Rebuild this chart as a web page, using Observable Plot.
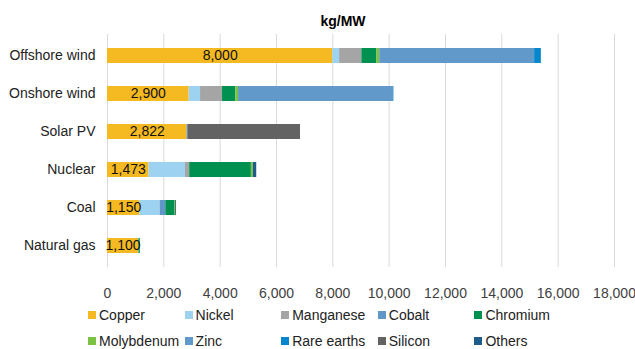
<!DOCTYPE html>
<html>
<head>
<meta charset="utf-8">
<script src="https://cdn.jsdelivr.net/npm/d3@7"></script>
<script src="https://cdn.jsdelivr.net/npm/@observablehq/plot@0.6"></script>
<style>
  html, body { margin: 0; padding: 0; background: #fff; }
  body { font-family: "Liberation Sans", Arial, sans-serif; }
  #wrap { position: relative; width: 635px; height: 349px; overflow: hidden; }
  #title { position: absolute; left: 0; width: 686px; top: 13px; text-align: center; font-weight: bold; font-size: 14px; color: #000; }
  #chart { position: absolute; left: 0; top: 0; }
  #legend { position: absolute; left: 88px; top: 307px; display: grid; grid-template-columns: repeat(5, 96.6px); row-gap: 10px; font-size: 14px; color: #222; }
  .item { display: flex; align-items: center; height: 16px; white-space: nowrap; }
  .sw { width: 8px; height: 8px; margin-right: 3px; flex: none; }
</style>
</head>
<body>
<div id="wrap">
  <div id="title">kg/MW</div>
  <div id="chart"></div>
  <div id="legend"></div>
</div>
<script>
const categories = ["Offshore wind", "Onshore wind", "Solar PV", "Nuclear", "Coal", "Natural gas"];
const minerals = ["Copper", "Nickel", "Manganese", "Cobalt", "Chromium", "Molybdenum", "Zinc", "Rare earths", "Silicon", "Others"];
const mineralColors = ["#F5B922", "#9DD3F0", "#A5A5A5", "#6097C8", "#00904F", "#7CC242", "#6199CA", "#0587CD", "#636363", "#1E5C8C"];

const copper     = [8000, 2900, 2822, 1473, 1150, 1100];
const nickel     = [240, 404, 0, 1297, 721, 16];
const manganese  = [790, 780, 0, 148, 0, 0];
const cobalt     = [0, 0, 0, 0, 200, 0];
const chromium   = [525, 470, 0, 2190, 308, 48];
const molybdenum = [109, 99, 0, 70, 40, 0];
const zinc       = [5500, 5500, 30, 0, 0, 0];
const rareEarths = [239, 14, 0, 0, 0, 0];
const silicon    = [0, 0, 4000, 0, 0, 0];
const others     = [0, 0, 0, 120, 30, 0];

const xTicks = [0, 2000, 4000, 6000, 8000, 10000, 12000, 14000, 16000, 18000];

const series = [copper, nickel, manganese, cobalt, chromium, molybdenum, zinc, rareEarths, silicon, others];
const rows = [];
categories.forEach((c, i) => {
  minerals.forEach((m, j) => {
    rows.push({category: c, mineral: m, value: series[j][i]});
  });
});
const labels = categories.map((c, i) => ({category: c, copper: copper[i]}));

const fmt = d3.format(",");

const chart = Plot.plot({
  width: 635,
  height: 305,
  marginTop: 34,
  marginBottom: 38,
  marginLeft: 107,
  marginRight: 21,
  style: {fontFamily: "'Liberation Sans', Arial, sans-serif", fontSize: "14px", background: "transparent"},
  x: {domain: [0, 18000], ticks: xTicks, tickFormat: fmt, label: null},
  y: {domain: categories, paddingInner: 0.6, paddingOuter: 0.3, label: null},
  color: {domain: minerals, range: mineralColors},
  marks: [
    Plot.gridX(xTicks, {stroke: "#d9d9d9", strokeOpacity: 1, strokeWidth: 1}),
    Plot.barX(rows, Plot.stackX({x: "value", y: "category", fill: "mineral", order: minerals})),
    Plot.text(labels, {x: d => d.copper / 2, y: "category", text: d => fmt(d.copper), fill: "#111", fontSize: 14}),
    Plot.axisX({ticks: xTicks, tickFormat: fmt, tickSize: 0, tickPadding: 21, fill: "#404040", fontSize: 14, label: null}),
    Plot.axisY({tickSize: 0, tickPadding: 12, fill: "#222", fontSize: 14, label: null})
  ]
});
document.getElementById("chart").appendChild(chart);

const legend = document.getElementById("legend");
minerals.forEach((m, j) => {
  const it = document.createElement("div");
  it.className = "item";
  const sw = document.createElement("span");
  sw.className = "sw";
  sw.style.background = mineralColors[j];
  const tx = document.createElement("span");
  tx.textContent = m;
  it.appendChild(sw);
  it.appendChild(tx);
  legend.appendChild(it);
});
</script>
</body>
</html>
